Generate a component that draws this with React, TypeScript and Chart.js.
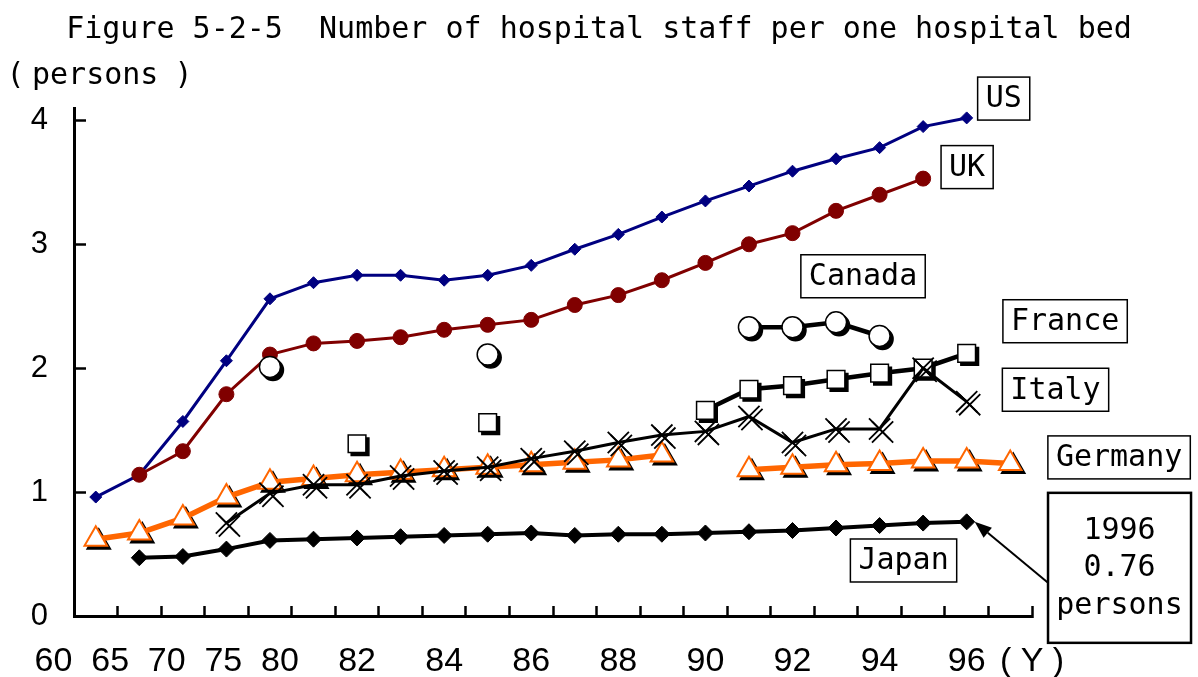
import React, { useEffect, useRef } from "react";
import { Chart, registerables } from "chart.js";

Chart.register(...registerables);

// ---------- data ----------
const years = ["60", "65", "70", "75", "80", "81", "82", "83", "84", "85", "86", "87", "88", "89", "90", "91", "92", "93", "94", "95", "96", "97"];
const earlyTickLabels = ["60", "65", "70", "75", "80"];
const evenYearTickLabels = ["82", "84", "86", "88", "90", "92", "94", "96"];
const yearUnitLabel = "( Y )";
const yTickValues = [0, 1, 2, 3, 4];

const usValues = [0.96, 1.14, 1.57, 2.06, 2.56, 2.69, 2.75, 2.75, 2.71, 2.75, 2.83, 2.96, 3.08, 3.22, 3.35, 3.47, 3.59, 3.69, 3.78, 3.95, 4.02, null];
const ukValues = [null, 1.14, 1.33, 1.79, 2.11, 2.2, 2.22, 2.25, 2.31, 2.35, 2.39, 2.51, 2.59, 2.71, 2.85, 3.0, 3.09, 3.27, 3.4, 3.53, null, null];
const canadaValues = [null, null, null, null, 2.01, null, null, null, null, 2.11, null, null, null, null, null, 2.33, 2.33, 2.37, 2.26, null, null, null];
const franceValues = [null, null, null, null, null, null, 1.39, null, null, 1.56, null, null, null, null, 1.66, 1.83, 1.86, 1.91, 1.96, 2.0, 2.12, null];
const italyValues = [null, null, null, 0.75, 0.99, 1.06, 1.06, 1.13, 1.17, 1.2, 1.27, 1.33, 1.4, 1.46, 1.49, 1.61, 1.4, 1.51, 1.51, 2.0, 1.73, null];
const germanyValues = [0.62, 0.67, 0.79, 0.96, 1.08, 1.11, 1.14, 1.16, 1.18, 1.2, 1.22, 1.24, 1.26, 1.3, null, 1.18, 1.2, 1.22, 1.23, 1.25, 1.25, 1.23];
const japanValues = [null, 0.47, 0.48, 0.54, 0.61, 0.62, 0.63, 0.64, 0.65, 0.66, 0.67, 0.65, 0.66, 0.66, 0.67, 0.68, 0.69, 0.71, 0.73, 0.75, 0.76, null];

const titleText = "Figure 5-2-5  Number of hospital staff per one hospital bed";
const unitText = "persons";
const calloutLines = ["1996", "0.76", "persons"];

// ---------- layout / style ----------
const MONO = '"DejaVu Sans Mono", monospace';
const SANS = '"Liberation Sans", Arial, sans-serif';
const SHADOW_OFFSET = 3;

// series label boxes, centres in data coordinates (category index, value)
const seriesLabelBoxes = [
  { text: "US", cx: 20.85, cy: 4.176 },
  { text: "UK", cx: 20.01, cy: 3.623 },
  { text: "Canada", cx: 17.62, cy: 2.742 },
  { text: "France", cx: 22.26, cy: 2.379 },
  { text: "Italy", cx: 22.04, cy: 1.826 },
  { text: "Germany", cx: 23.5, cy: 1.28 },
  { text: "Japan", cx: 18.55, cy: 0.448 },
];
const callout = { cx: 23.51, top: 0.994, width: 143, height: 150, targetIndex: 20 };

const toPoints = (arr: (number | null)[]) => arr.map((v, i) => ({ x: i, y: v }));

function buildXTicks() {
  const ticks: any[] = [];
  for (let i = 0; i <= years.length; i++) ticks.push({ value: i - 0.5, mark: true, text: "" });
  const earlyStart = -0.97;
  const earlyStep = 1.3;
  earlyTickLabels.forEach((t, k) => ticks.push({ value: earlyStart + k * earlyStep, mark: false, text: t }));
  evenYearTickLabels.forEach((t) => ticks.push({ value: years.indexOf(t), mark: false, text: t }));
  ticks.push({ value: years.length - 0.5, mark: false, text: yearUnitLabel });
  return ticks;
}

const shadowPlugin = {
  id: "markerShadow",
  beforeDatasetDraw(chart: any, args: any) {
    const ds = chart.data.datasets[args.index];
    if (ds.isShadow) {
      chart.ctx.save();
      chart.ctx.translate(SHADOW_OFFSET, SHADOW_OFFSET);
    }
  },
  afterDatasetDraw(chart: any, args: any) {
    const ds = chart.data.datasets[args.index];
    if (ds.isShadow) chart.ctx.restore();
  },
};

const overlayPlugin = {
  id: "overlay",
  afterDraw(chart: any) {
    const ctx = chart.ctx as CanvasRenderingContext2D;
    const xs = chart.scales.x;
    const ys = chart.scales.y;
    ctx.save();
    ctx.fillStyle = "#000";
    // title
    ctx.font = `30px ${MONO}`;
    ctx.textAlign = "center";
    ctx.textBaseline = "alphabetic";
    ctx.fillText(titleText, chart.width / 2, 38);
    // unit label
    ctx.textAlign = "center";
    ctx.fillText("(", 15.5, 84);
    ctx.textAlign = "left";
    ctx.fillText(unitText, 32, 84);
    ctx.textAlign = "center";
    ctx.fillText(")", 183.5, 84);

    // series label boxes
    ctx.font = `30px ${MONO}`;
    ctx.textBaseline = "middle";
    for (const lb of seriesLabelBoxes) {
      const cx = xs.getPixelForValue(lb.cx);
      const cy = ys.getPixelForValue(lb.cy);
      const tw = ctx.measureText(lb.text).width;
      const w = tw + 16;
      const h = 43;
      ctx.fillStyle = "#fff";
      ctx.fillRect(cx - w / 2, cy - h / 2, w, h);
      ctx.lineWidth = 1.5;
      ctx.strokeStyle = "#000";
      ctx.strokeRect(cx - w / 2, cy - h / 2, w, h);
      ctx.fillStyle = "#000";
      ctx.textAlign = "center";
      ctx.fillText(lb.text, cx, cy + 1);
    }

    // callout
    const ccx = xs.getPixelForValue(callout.cx);
    const top = ys.getPixelForValue(callout.top);
    const left = ccx - callout.width / 2;
    ctx.fillStyle = "#fff";
    ctx.fillRect(left, top, callout.width, callout.height);
    ctx.lineWidth = 2.5;
    ctx.strokeStyle = "#000";
    ctx.strokeRect(left, top, callout.width, callout.height);
    ctx.fillStyle = "#000";
    calloutLines.forEach((t, i) => ctx.fillText(t, ccx, top + 38 + i * 37.5));

    // arrow
    const sx = left;
    const sy = top + 90;
    const tx = xs.getPixelForValue(callout.targetIndex) + 8;
    const ty = ys.getPixelForValue(japanValues[callout.targetIndex] as number);
    const ang = Math.atan2(ty - sy, tx - sx);
    const headLen = 17;
    const headHalf = 6.5;
    const bx = tx - headLen * Math.cos(ang);
    const by = ty - headLen * Math.sin(ang);
    ctx.lineWidth = 2;
    ctx.beginPath();
    ctx.moveTo(sx, sy);
    ctx.lineTo(bx, by);
    ctx.stroke();
    ctx.beginPath();
    ctx.moveTo(tx, ty);
    ctx.lineTo(bx + headHalf * Math.sin(ang), by - headHalf * Math.cos(ang));
    ctx.lineTo(bx - headHalf * Math.sin(ang), by + headHalf * Math.cos(ang));
    ctx.closePath();
    ctx.fill();
    ctx.restore();
  },
};

function lineSeries(label: string, values: (number | null)[], s: any, order: number) {
  return {
    label,
    data: toPoints(values),
    order,
    clip: false,
    borderColor: s.line,
    borderWidth: s.lineWidth,
    pointStyle: s.pointStyle,
    pointRadius: s.radius,
    pointBackgroundColor: s.fill,
    pointBorderColor: s.stroke,
    pointBorderWidth: s.pointBorderWidth,
    tension: 0,
    spanGaps: false,
    isShadow: false,
  };
}

function shadowSeries(label: string, values: (number | null)[], s: any, order: number) {
  return {
    label: label + " shadow",
    data: toPoints(values),
    order,
    clip: false,
    showLine: false,
    borderColor: "#000",
    pointStyle: s.pointStyle,
    pointRadius: s.radius,
    pointBackgroundColor: "#000",
    pointBorderColor: "#000",
    pointBorderWidth: s.pointBorderWidth,
    isShadow: true,
  };
}

const styles = {
  italy: { line: "#000", lineWidth: 3, pointStyle: "crossRot", radius: 15, fill: "#000", stroke: "#000", pointBorderWidth: 1.8 },
  france: { line: "#000", lineWidth: 4.5, pointStyle: "rect", radius: 12.5, fill: "#fff", stroke: "#000", pointBorderWidth: 1.5 },
  canada: { line: "#000", lineWidth: 4.5, pointStyle: "circle", radius: 10.5, fill: "#fff", stroke: "#000", pointBorderWidth: 1.5 },
  germany: { line: "#FF6600", lineWidth: 5.5, pointStyle: "triangle", radius: 13, fill: "#fff", stroke: "#FF6600", pointBorderWidth: 2 },
  uk: { line: "#800000", lineWidth: 3, pointStyle: "circle", radius: 7.5, fill: "#800000", stroke: "#800000", pointBorderWidth: 1 },
  us: { line: "#000080", lineWidth: 3, pointStyle: "rectRot", radius: 6, fill: "#000080", stroke: "#000080", pointBorderWidth: 1 },
  japan: { line: "#000", lineWidth: 4, pointStyle: "rectRot", radius: 8, fill: "#000", stroke: "#000", pointBorderWidth: 1 },
};

export default function App() {
  const ref = useRef<HTMLCanvasElement>(null);
  useEffect(() => {
    if (!ref.current) return;
    const datasets: any[] = [
      lineSeries("Italy", italyValues, styles.italy, 0),
      shadowSeries("Italy", italyValues, styles.italy, 1),
      lineSeries("France", franceValues, styles.france, 2),
      shadowSeries("France", franceValues, styles.france, 3),
      lineSeries("Canada", canadaValues, styles.canada, 4),
      shadowSeries("Canada", canadaValues, styles.canada, 5),
      lineSeries("Germany", germanyValues, styles.germany, 6),
      shadowSeries("Germany", germanyValues, styles.germany, 7),
      lineSeries("UK", ukValues, styles.uk, 8),
      lineSeries("US", usValues, styles.us, 9),
      lineSeries("Japan", japanValues, styles.japan, 10),
    ];
    const chart = new Chart(ref.current, {
      type: "line",
      data: { datasets },
      options: {
        responsive: false,
        animation: false,
        events: [],
        layout: { padding: { top: 108, right: 166, bottom: 0, left: 0 } },
        plugins: { legend: { display: false }, tooltip: { enabled: false }, title: { display: false } },
        scales: {
          x: {
            type: "linear",
            min: -0.5,
            max: years.length - 0.5,
            bounds: "data",
            afterBuildTicks: (scale: any) => {
              scale.ticks = buildXTicks();
            },
            afterFit: (scale: any) => {
              scale.height = 61;
              scale.paddingLeft = 0;
              scale.paddingRight = 0;
            },
            grid: {
              drawOnChartArea: false,
              tickLength: -10,
              tickWidth: 2.5,
              tickColor: (c: any) => (c.tick && c.tick.mark ? "#000" : "rgba(0,0,0,0)"),
            },
            border: { display: true, color: "#000", width: 3 },
            ticks: {
              autoSkip: false,
              maxRotation: 0,
              minRotation: 0,
              padding: 35,
              color: "#000",
              font: { family: SANS, size: 34 },
              callback: (_v: any, i: number, ticks: any[]) => ticks[i].text || "",
            },
          },
          y: {
            type: "linear",
            min: 0,
            max: 4.1,
            bounds: "data",
            afterBuildTicks: (scale: any) => {
              scale.ticks = yTickValues.map((v) => ({ value: v }));
            },
            afterFit: (scale: any) => {
              scale.width = 74;
            },
            grid: { drawOnChartArea: false, tickLength: -12, tickWidth: 2.5, tickColor: "#000" },
            border: { display: true, color: "#000", width: 3 },
            ticks: {
              padding: 38,
              color: "#000",
              font: { family: SANS, size: 31 },
              callback: (v: any) => String(v),
            },
          },
        },
      } as any,
      plugins: [shadowPlugin, overlayPlugin],
    });
    return () => chart.destroy();
  }, []);
  return (
    <div style={{ position: "absolute", left: 0, top: 0, width: 1198, height: 677, background: "#fff" }}>
      <canvas ref={ref} width={1198} height={677} style={{ display: "block", width: 1198, height: 677 }} />
    </div>
  );
}
